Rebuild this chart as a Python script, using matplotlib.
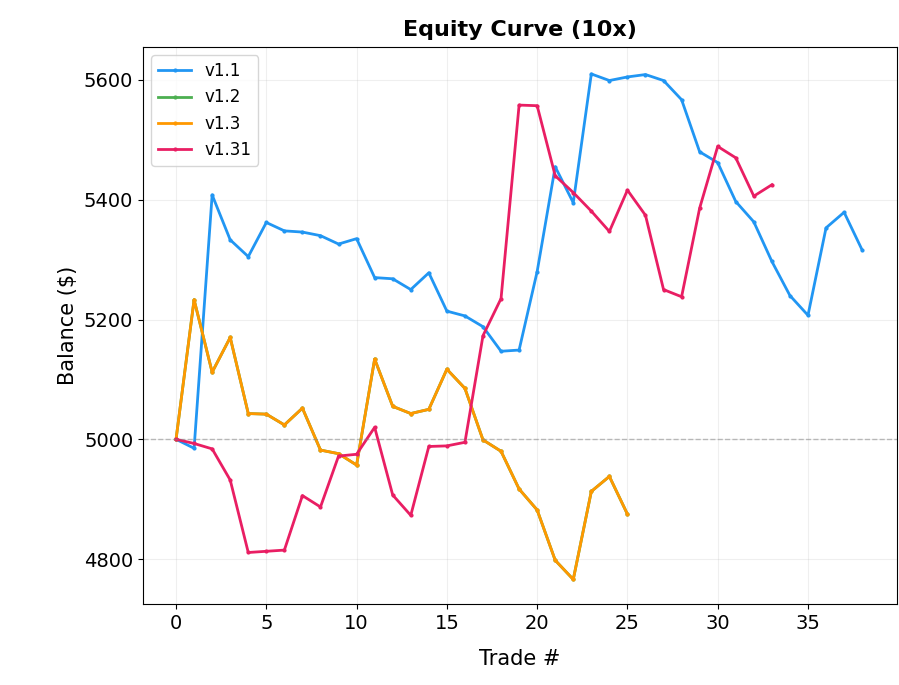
import matplotlib
matplotlib.use("Agg")
import matplotlib.pyplot as plt

v11 = [5000, 4985, 5408, 5333, 5305, 5362, 5348, 5346, 5340, 5326, 5335, 5270,
       5268, 5250, 5278, 5214, 5206, 5188, 5147, 5149, 5280, 5455, 5395, 5610,
       5599, 5605, 5609, 5599, 5567, 5480, 5462, 5397, 5363, 5297, 5240, 5207,
       5353, 5379, 5316]
v13 = [5000, 5233, 5112, 5170, 5043, 5042, 5024, 5052, 4982, 4976, 4957, 5134,
       5055, 5043, 5050, 5117, 5085, 4999, 4980, 4917, 4882, 4798, 4766, 4913,
       4938, 4875]
v12 = list(v13)
v131 = [5000, 4993, 4984, 4932, 4811, 4813, 4815, 4906, 4887, 4972, 4975, 5020,
        4907, 4873, 4988, 4989, 4995, 5173, 5235, 5558, 5557, 5440, 5412, 5381,
        5347, 5416, 5374, 5250, 5238, 5386, 5489, 5470, 5406, 5425]

series = [("v1.1", v11, "#2196f3"), ("v1.2", v12, "#4caf50"),
          ("v1.3", v13, "#ff9800"), ("v1.31", v131, "#e91e63")]

fig = plt.figure(figsize=(8.99, 6.85), dpi=100)
ax = fig.add_axes([143 / 899, 1 - 604 / 685, 754 / 899, 557 / 685])
for name, vals, col in series:
    ax.plot(range(len(vals)), vals, marker="o", markersize=2, lw=2, color=col, label=name)
ax.axhline(5000, color="gray", ls="--", lw=1, alpha=0.5)
ax.set_xlim(-1.83, 39.93)
ax.set_ylim(4725, 5655)
ax.set_xticks(range(0, 40, 5))
ax.set_yticks([4800, 5000, 5200, 5400, 5600])
ax.grid(True, alpha=0.2)
ax.tick_params(labelsize=14)
ax.set_title("Equity Curve (10x)", fontsize=16, fontweight="bold", pad=8)
ax.set_xlabel("Trade #", fontsize=15, labelpad=12)
ax.set_ylabel("Balance ($)", fontsize=15)
ax.legend(loc="upper left", fontsize=12)
fig.savefig("out.png")
